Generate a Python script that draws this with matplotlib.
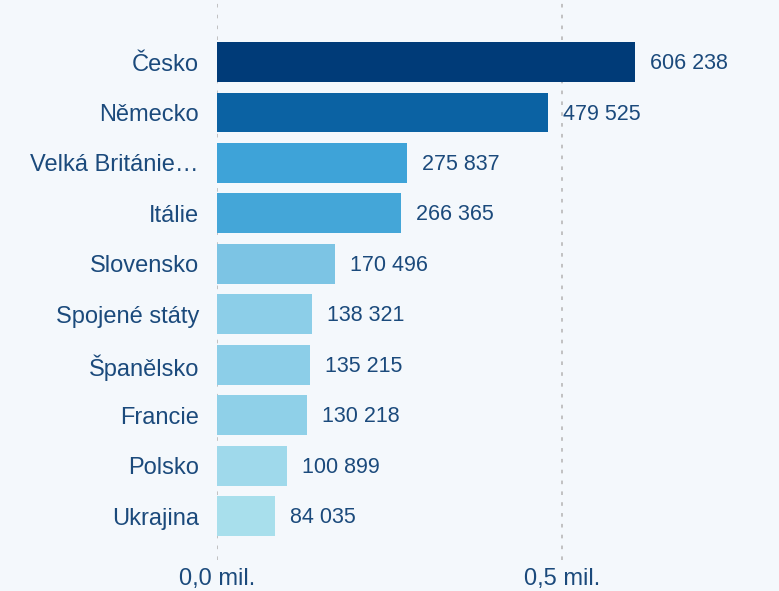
import matplotlib
matplotlib.use("Agg")
import matplotlib.pyplot as plt
from matplotlib.ticker import FuncFormatter

# ---------------------------------------------------------------------------
# Data
# ---------------------------------------------------------------------------

countries = [
    "Česko", "Německo", "Velká Británie…", "Itálie", "Slovensko",
    "Spojené státy", "Španělsko", "Francie", "Polsko", "Ukrajina",
]
values = [606238, 479525, 275837, 266365, 170496, 138321, 135215, 130218, 100899, 84035]
bar_colors = [
    "#003b78", "#0b62a3", "#3ea3d8", "#44a6d8", "#7cc4e4",
    "#8ccee8", "#8ccee8", "#8fd0e8", "#9fd9eb", "#a8dfec",
]
xticks = [0, 500000]

# ---------------------------------------------------------------------------
# Plot
# ---------------------------------------------------------------------------

bg = "#f4f8fc"
text_color = "#1b4a7c"

plt.rcParams.update({
    "font.family": ["Liberation Sans", "DejaVu Sans"],
    "font.size": 17,
})

fig = plt.figure(figsize=(7.79, 5.91), dpi=100, facecolor=bg)
ax = fig.add_axes([217 / 779, 31 / 591, (775 - 217) / 779, 560 / 591])
ax.set_facecolor(bg)

y = list(range(len(countries)))
ax.barh(y, values, height=0.79, color=bar_colors, zorder=2)

# value labels, ~15 px right of the bar end
px_per_unit = 345 / 500000
for yi, v in zip(y, values):
    ax.text(v + 15 / px_per_unit, yi + 0.03, f"{v:,}".replace(",", " "),
            va="center", ha="left", color=text_color, fontsize=15.5)

ax.set_yticks(y)
ax.set_yticklabels(countries, color=text_color, fontsize=17)
ax.set_ylim(9.87, -1.23)
ax.set_xlim(0, (775 - 217) / px_per_unit)

ax.set_xticks(xticks)
ax.xaxis.set_major_formatter(FuncFormatter(lambda v, _: f"{v / 1e6:.1f} mil.".replace(".", ",", 1)))
ax.tick_params(axis="x", colors=text_color, length=0, pad=6, labelsize=17)
ax.tick_params(axis="y", length=0, pad=13)

ax.grid(axis="x", color="#bdbdbd", linestyle=(0, (2, 4)), linewidth=1.3, zorder=1)
for side in ax.spines.values():
    side.set_visible(False)

fig.savefig("out.png", dpi=100, facecolor=bg)
